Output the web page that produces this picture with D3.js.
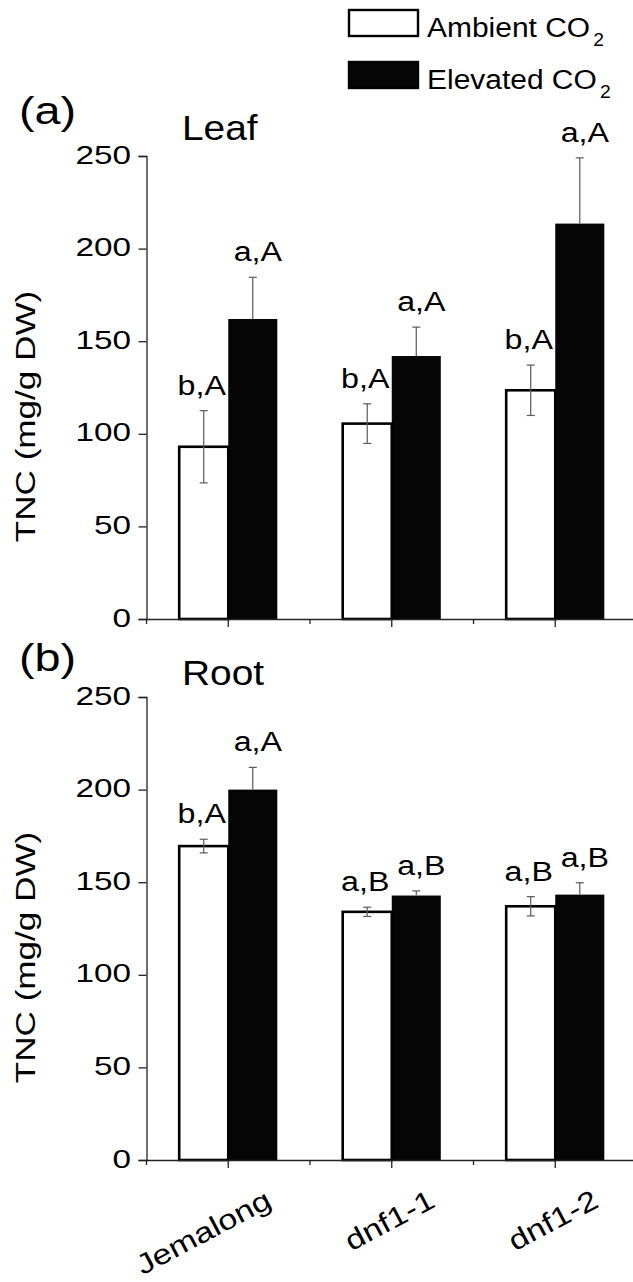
<!DOCTYPE html>
<html>
<head>
<meta charset="utf-8">
<script src="https://cdn.jsdelivr.net/npm/d3@7/dist/d3.min.js"></script>
<style>
html,body{margin:0;padding:0;background:#fff;}
svg{display:block;}
text{font-family:"Liberation Sans",Arial,Helvetica,sans-serif;fill:#000;}
</style>
</head>
<body>
<script>
// ---------- data ----------
const categories = ["Jemalong", "dnf1-1", "dnf1-2"];
const seriesNames = ["Ambient CO", "Elevated CO"];
const yTicks = [0, 50, 100, 150, 200, 250];

const leafAmbient = [93, 105.5, 123.5];
const leafAmbientErr = [19.5, 10.7, 13.6];
const leafElevated = [162, 142, 213.5];
const leafElevatedErr = [22.5, 15.6, 35.5];
const leafAmbientLetters = ["b,A", "b,A", "b,A"];
const leafElevatedLetters = ["a,A", "a,A", "a,A"];

const rootAmbient = [169.5, 134, 137];
const rootAmbientErr = [3.7, 2.5, 5.2];
const rootElevated = [200, 142.8, 143.3];
const rootElevatedErr = [12, 2.5, 6.4];
const rootAmbientLetters = ["b,A", "a,B", "a,B"];
const rootElevatedLetters = ["a,A", "a,B", "a,B"];

const panelTags = ["(a)", "(b)"];
const panelTitles = ["Leaf", "Root"];
const yLabel = "TNC (mg/g DW)";

// ---------- layout ----------
const W = 633, H = 1282;
const panels = [
  {tag: panelTags[0], title: panelTitles[0], top: 156, bottom: 619, tagY: 123.5, titleY: 140,
   amb: leafAmbient, ambErr: leafAmbientErr, ele: leafElevated, eleErr: leafElevatedErr,
   ambL: leafAmbientLetters, eleL: leafElevatedLetters},
  {tag: panelTags[1], title: panelTitles[1], top: 697, bottom: 1160, tagY: 671, titleY: 685,
   amb: rootAmbient, ambErr: rootAmbientErr, ele: rootElevated, eleErr: rootElevatedErr,
   ambL: rootAmbientLetters, eleL: rootElevatedLetters}
];

const svg = d3.select("body").append("svg").attr("width", W).attr("height", H);

const x = d3.scaleBand().domain(categories).range([146.5, 637]).padding(0);
const bw = x.bandwidth() * 0.3;

panels.forEach((p, pi) => {
  const g = svg.append("g");
  const y = d3.scaleLinear().domain([0, 250]).range([p.bottom, p.top]);

  const rows = categories.map((c, i) => ({c, i}));
  // elevated (black)
  g.selectAll("rect.ele").data(rows).enter().append("rect")
    .attr("x", d => x(d.c) + x.bandwidth() / 2)
    .attr("y", d => y(p.ele[d.i]))
    .attr("width", bw)
    .attr("height", d => y(0) - y(p.ele[d.i]))
    .attr("fill", "#050505");
  // ambient (white, outlined)
  g.selectAll("rect.amb").data(rows).enter().append("rect")
    .attr("x", d => x(d.c) + x.bandwidth() / 2 - bw)
    .attr("y", d => y(p.amb[d.i]))
    .attr("width", bw)
    .attr("height", d => y(0) - y(p.amb[d.i]))
    .attr("fill", "#fff").attr("stroke", "#000").attr("stroke-width", 2.6);

  // error bars
  const errs = [];
  rows.forEach(d => {
    errs.push({cx: x(d.c) + x.bandwidth() / 2 - bw / 2, v: p.amb[d.i], e: p.ambErr[d.i], both: true});
    errs.push({cx: x(d.c) + x.bandwidth() / 2 + bw / 2, v: p.ele[d.i], e: p.eleErr[d.i], both: false});
  });
  errs.forEach(e => {
    const y1 = y(e.v + e.e), y0 = e.both ? y(e.v - e.e) : y(e.v);
    g.append("line").attr("x1", e.cx).attr("x2", e.cx).attr("y1", y1).attr("y2", y0)
      .attr("stroke", "#5a5a5a").attr("stroke-width", 1.2);
    g.append("line").attr("x1", e.cx - 4).attr("x2", e.cx + 4).attr("y1", y1).attr("y2", y1)
      .attr("stroke", "#5a5a5a").attr("stroke-width", 1.2);
    if (e.both) {
      g.append("line").attr("x1", e.cx - 4).attr("x2", e.cx + 4).attr("y1", y0).attr("y2", y0)
        .attr("stroke", "#5a5a5a").attr("stroke-width", 1.2);
    }
  });

  // significance letters
  rows.forEach(d => {
    const cxA = x(d.c) + x.bandwidth() / 2 - bw / 2;
    const cxE = x(d.c) + x.bandwidth() / 2 + bw / 2;
    [[cxA - 2, p.amb[d.i] + p.ambErr[d.i], p.ambL[d.i]],
     [cxE + 5, p.ele[d.i] + p.eleErr[d.i], p.eleL[d.i]]].forEach(([cx, top, lab]) => {
      g.append("text")
        .attr("transform", `translate(${cx},${y(top) - 16}) scale(1.15,1)`)
        .attr("text-anchor", "middle").attr("font-size", 28).text(lab);
    });
  });

  // y axis
  const yAxis = d3.axisLeft(y).tickValues(yTicks).tickSize(8).tickFormat("");
  const ya = g.append("g").attr("transform", "translate(146.5,0)").call(yAxis);
  ya.select(".domain").attr("stroke", "#222").attr("stroke-width", 1.3);
  ya.selectAll(".tick line").attr("stroke", "#222").attr("stroke-width", 1.3);
  yTicks.forEach(t => {
    g.append("text")
      .attr("transform", `translate(131,${y(t) + 7.5}) scale(1.28,1)`)
      .attr("text-anchor", "end").attr("font-size", 26).text(t);
  });

  // x axis
  const xAxis = d3.axisBottom(x).tickSize(8).tickSizeOuter(0).tickFormat("");
  const xa = g.append("g").attr("transform", `translate(0,${y(0)})`).call(xAxis);
  xa.select(".domain").attr("stroke", "#222").attr("stroke-width", 1.3);
  xa.selectAll(".tick line").attr("stroke", "#222").attr("stroke-width", 1.3);
  categories.forEach(c => {
    g.append("line").attr("x1", x(c)).attr("x2", x(c)).attr("y1", y(0)).attr("y2", y(0) + 5)
      .attr("stroke", "#222").attr("stroke-width", 1.3);
  });

  // y label
  g.append("text")
    .attr("transform", `translate(35,${(p.top + p.bottom) / 2 + 29}) rotate(-90) scale(1.3,1)`)
    .attr("text-anchor", "middle").attr("font-size", 27).text(yLabel);

  // panel tag and title
  g.append("text").attr("transform", `translate(19,${p.tagY}) scale(1.2,1)`)
    .attr("font-size", 39).text(p.tag);
  g.append("text").attr("transform", `translate(182,${p.titleY}) scale(1.08,1)`)
    .attr("font-size", 36).text(p.title);

  // category labels on bottom panel
  if (pi === panels.length - 1) {
    categories.forEach(c => {
      const cx = x(c) + x.bandwidth() / 2;
      g.append("text")
        .attr("transform", `translate(${cx + 45},${y(0) + 46}) rotate(-28) scale(1.22,1)`)
        .attr("text-anchor", "end").attr("font-size", 28).text(c);
    });
  }
});

// legend
const legendRows = [{name: seriesNames[0], fill: "#fff", y: 10}, {name: seriesNames[1], fill: "#050505", y: 62}];
legendRows.forEach(r => {
  svg.append("rect").attr("x", 349).attr("y", r.y).attr("width", 69).attr("height", 26)
    .attr("fill", r.fill).attr("stroke", "#000").attr("stroke-width", 2.4);
  const t = svg.append("text").attr("transform", `translate(427,${r.y + 26.5}) scale(1.07,1)`)
    .attr("font-size", 28);
  t.append("tspan").text(r.name);
  t.append("tspan").attr("font-size", 18).attr("dy", 9).attr("dx", 3).text("2");
});
</script>
</body>
</html>
